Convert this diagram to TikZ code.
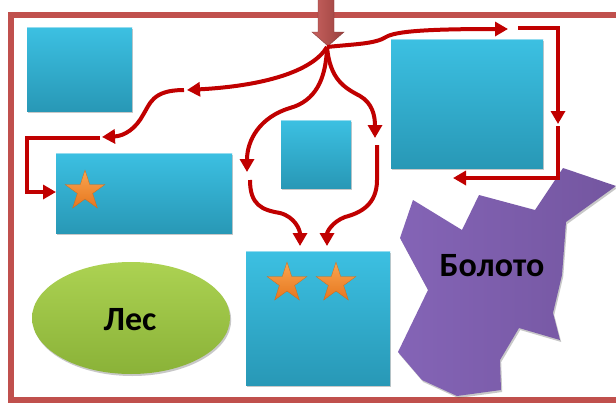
\documentclass[tikz,border=0pt]{standalone}
\usepackage{fontspec}
\setmainfont{Carlito}
\usetikzlibrary{arrows.meta,shapes.geometric,shadows}
\definecolor{framered}{RGB}{192,80,77}
\definecolor{arrred}{RGB}{192,0,0}
\definecolor{bluetop}{RGB}{60,192,226}
\definecolor{bluebot}{RGB}{40,152,182}
\definecolor{greentop}{RGB}{172,210,82}
\definecolor{greenbot}{RGB}{138,178,56}
\definecolor{purpleleft}{RGB}{132,100,182}
\definecolor{purpleright}{RGB}{116,86,160}
\definecolor{startop}{RGB}{250,165,80}
\definecolor{starbot}{RGB}{230,118,30}
\tikzset{
  softshadow/.style={drop shadow={shadow xshift=1.2pt,shadow yshift=-2pt,opacity=0.3,fill=black!70}},
  bluebox/.style={rectangle, inner sep=0pt, top color=bluetop, bottom color=bluebot, softshadow,
    path picture={\draw[line width=1.6pt, bluetop!55!white] (path picture bounding box.north west) -- (path picture bounding box.north east);}},
  orangestar/.style={star, star points=5, star point ratio=2.618, minimum size=42pt, inner sep=0pt,
    top color=startop, bottom color=starbot, draw=starbot!90!black, line width=0.3pt},
  redpath/.style={draw=arrred, line width=4pt},
  redarrow/.style={redpath, -{Triangle[length=13pt,width=14pt]}},
  label/.style={font=\bfseries\fontsize{34}{38}\selectfont, text=black, inner sep=0pt}
}
\begin{document}
\begin{tikzpicture}[x=1pt,y=-1pt]
\useasboundingbox (0,0) rectangle (616,402);
\clip (0,0) rectangle (616,402);
\fill[white] (0,0) rectangle (616,402);
% frame
\draw[framered, line width=6pt] (11,15) rectangle (660,400);
% boxes
\node[bluebox, minimum width=105pt, minimum height=84pt] (b1) at (79.5,69) {};
\node[bluebox, minimum width=176pt, minimum height=80pt] (b2) at (144,193) {};
\node[bluebox, minimum width=70pt, minimum height=68pt] (b3) at (316,154) {};
\node[bluebox, minimum width=152pt, minimum height=129pt] (b4) at (467,103.5) {};
\node[bluebox, minimum width=144pt, minimum height=134pt] (b5) at (318,318) {};
% forest
\node[ellipse, inner sep=0pt, minimum width=198pt, minimum height=112pt, top color=greentop, bottom color=greenbot, softshadow] (forest) at (131,318) {};
\node[label] (forestlabel) at (130,320) {Лес};
% swamp
\path[left color=purpleleft, right color=purpleright, softshadow]
  (413,200) -- (462,230) -- (479,195) -- (535,210) -- (563,168) -- (616,186) -- (566,222)
  -- (562,275) -- (553,313) -- (560,340) -- (519,328) -- (500,360) -- (501,390) -- (457,396)
  -- (422,380) -- (398,352) -- (428,290) -- (400,238) -- cycle;
\node[label] (swamplabel) at (492,266) {Болото};
% stars
\node[orangestar] (s1) at (85,191) {};
\node[orangestar] (s2) at (287,283) {};
\node[orangestar] (s3) at (336,283) {};
% entry arrow
\path[left color=framered!90!white, right color=framered!80!black, draw=framered!70!black, line width=0.4pt]
  (318,-2) -- (334,-2) -- (334,32) -- (344,32) -- (328,46) -- (312,32) -- (318,32) -- cycle;
\coordinate (T) at (327,47);
% coordinates
\coordinate (r1) at (508,29);
\coordinate (r2s) at (518,28);
\coordinate (r2c) at (558,28);
\coordinate (r2) at (558,124);
\coordinate (r3s) at (558,126);
\coordinate (r3c) at (558,178);
\coordinate (r3) at (453,178);
\coordinate (l1) at (187,90);
\coordinate (l2s) at (184,90);
\coordinate (l2) at (102,137);
\coordinate (l3s) at (100,138);
\coordinate (l3a) at (27,138);
\coordinate (l3b) at (27,192);
\coordinate (l3) at (56,192);
\coordinate (m1) at (247,172);
\coordinate (m2s) at (250,180);
\coordinate (m2) at (300,246);
\coordinate (n1) at (375,138);
\coordinate (n2s) at (377,145);
\coordinate (n2) at (327,246);
% right route
\draw[redarrow] (T) .. controls (355,44) and (375,44) .. (386,37) .. controls (396,31) and (430,29) .. (r1);
\draw[redarrow] (r2s) -- (r2c) -- (r2);
\draw[redarrow] (r3s) -- (r3c) -- (r3);
% left route
\draw[redarrow] (T) .. controls (312,72) and (262,86) .. (l1);
\draw[redarrow] (l2s) .. controls (152,90) and (150,104) .. (143,115) .. controls (136,128) and (125,136) .. (l2);
\draw[redarrow] (l3s) -- (l3a) -- (l3b) -- (l3);
% middle left route
\draw[redarrow] (T) .. controls (326,80) and (315,101) .. (290,108) .. controls (260,117) and (247,140) .. (m1);
\draw[redarrow] (m2s) .. controls (250,205) and (262,210) .. (280,213) .. controls (295,217) and (300,230) .. (m2);
% middle right route
\draw[redarrow] (T) .. controls (330,80) and (345,88) .. (360,96) .. controls (372,103) and (375,115) .. (n1);
\draw[redarrow] (n2s) -- (377,180) .. controls (377,205) and (360,213) .. (345,217) .. controls (332,222) and (327,232) .. (n2);
\end{tikzpicture}
\end{document}
